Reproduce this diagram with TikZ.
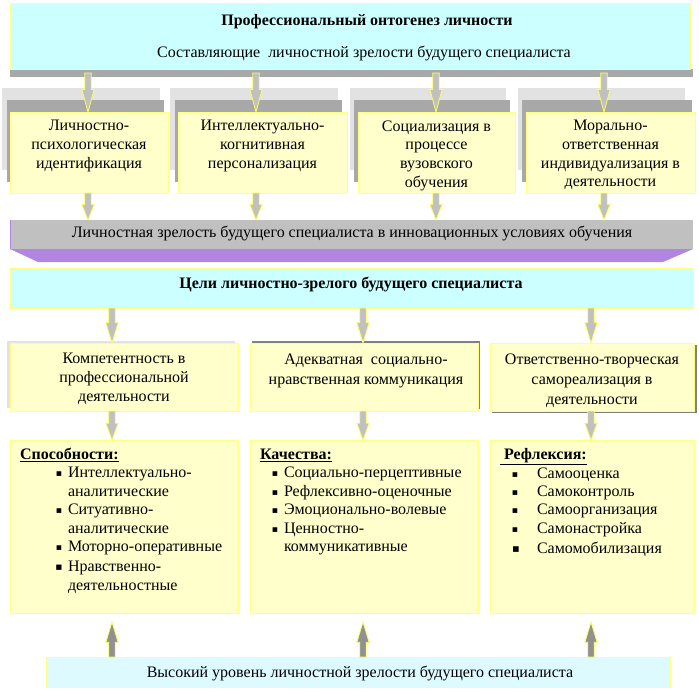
\documentclass[tikz,border=0pt]{standalone}
\usepackage{fontspec}
\setmainfont{Liberation Serif}
\newfontfamily\dejavu{DejaVu Sans}
\usetikzlibrary{fit,calc}
\definecolor{cyanbox}{RGB}{204,255,255}
\definecolor{yelbox}{RGB}{255,255,204}
\definecolor{yelline}{RGB}{255,255,130}
\definecolor{arrline}{RGB}{255,255,90}
\definecolor{bandgray}{RGB}{192,192,192}
\definecolor{bandpurple}{RGB}{178,134,224}
\definecolor{shadowdark}{RGB}{168,168,168}
\definecolor{shadowlight}{RGB}{226,226,226}
\definecolor{shadowmid}{RGB}{128,128,128}
\definecolor{arrowgray}{RGB}{192,192,192}
\definecolor{arrowdark}{RGB}{145,145,145}
\definecolor{bottomcyan}{RGB}{220,250,255}
\newcommand\blockarr[4]{%
  \path (#2 -| #4) coordinate (tmpA) (#3 -| #4) coordinate (tmpB);
  \draw[#1] let \p1=(tmpA), \p2=(tmpB), \p3=($(tmpB)!0.58!(tmpA)$) in
    (\x1-2.4pt,\y1) -- (\x1-2.4pt,\y3) -- (\x1-4.6pt,\y3) -- (\x1,\y2)
    -- (\x1+4.6pt,\y3) -- (\x1+2.4pt,\y3) -- (\x1+2.4pt,\y1) -- cycle;}
\begin{document}
\begin{tikzpicture}[x=0.75pt,y=-0.75pt,
  font=\fontsize{12}{14}\selectfont,
  region/.style={inner sep=0pt, outer sep=0pt},
  cbox/.style={region, fill=cyanbox, draw=yelline, line width=0.75pt},
  ybox/.style={region, fill=yelbox, draw=yelline, line width=0.75pt},
  shl/.style={region, fill=shadowlight},
  shd/.style={region, fill=shadowdark},
  shm/.style={region, fill=shadowmid},
  txt/.style={inner sep=0pt, outer sep=0pt, align=center},
  ltxt/.style={inner sep=0pt, outer sep=0pt, anchor=base west},
  bul/.style={inner sep=0pt, outer sep=0pt, anchor=base, font=\dejavu\fontsize{7}{8}\selectfont},
  darr/.style={fill=arrowgray, draw=arrline, line width=0.6pt},
  uarr/.style={fill=arrowdark, draw=arrline, line width=0.6pt}]
\useasboundingbox (0,0) rectangle (699,690);
\fill[white] (0,0) rectangle (699,690);

% arrow x positions
\coordinate (ax1) at (88,0);
\coordinate (ax2) at (256,0);
\coordinate (ax3) at (436,0);
\coordinate (ax4) at (604,0);
\coordinate (cxA) at (112,0);
\coordinate (cxB) at (363,0);
\coordinate (cxC) at (591,0);

% top box
\node[shm, fit={(10,69) (693,77)}, fill=shadowdark] (topsh) {};
\node[cbox, fit={(10,3) (690,69)}] (top) {};
\draw[yelline, line width=0.75pt] (top.west |- 0,39) coordinate (divl) -- (top.east |- 0,39) coordinate (divr);
\node[txt, anchor=base, font=\bfseries\fontsize{12}{14}\selectfont] (title) at (367,25) {Профессиональный онтогенез личности};
\node[txt, anchor=base] (subtitle) at (364,57) {Составляющие \ личностной зрелости будущего специалиста};

% row 2 shadows and boxes
\node[shl, fit={(2,88) (160,170)}] (s1l) {};
\node[shd, fit={(7,100) (164,182)}] (s1d) {};
\node[shl, fit={(170,88) (338,170)}] (s2l) {};
\node[shd, fit={(175,100) (342,182)}] (s2d) {};
\node[shl, fit={(350,88) (506,170)}] (s3l) {};
\node[shd, fit={(354,100) (510,182)}] (s3d) {};
\node[shl, fit={(518,88) (685,170)}] (s4l) {};
\node[shd, fit={(522,100) (692,182)}] (s4d) {};
\node[ybox, fit={(10,112) (168,193)}] (b1) {};
\node[ybox, fit={(178,112) (347,193)}] (b2) {};
\node[ybox, fit={(358,112) (515,193)}] (b3) {};
\node[ybox, fit={(526,112) (695,193)}] (b4) {};
\node[txt, anchor=north] (t1) at (b1.center |- 0,120.5) {Личностно-\\психологическая\\идентификация};
\node[txt, anchor=north] (t2) at (b2.center |- 0,120.5) {Интеллектуально-\\когнитивная\\персонализация};
\node[txt, anchor=north] (t3) at (b3.center |- 0,120.5) {Социализация в\\процессе\\вузовского\\обучения};
\node[txt, anchor=north] (t4) at (b4.center |- 0,120.5) {Морально-\\ответственная\\индивидуализация в\\деятельности};

% band
\fill[bandpurple] (10,249) coordinate (pl1) -- (693,249) coordinate (pr1) -- (663,262) coordinate (pr2) -- (38,262) coordinate (pl2) -- cycle;
\node[region, fill=bandgray, fit={(10,220) (693,249)}] (band) {};
\draw[bandpurple, line width=0.75pt] (band.north west) -- (band.south west);
\node[txt, anchor=base] (bandtxt) at (352,237) {Личностная зрелость будущего специалиста в инновационных условиях обучения};

% goals box
\node[cbox, fit={(10,268) (693,308)}] (goals) {};
\node[txt, anchor=base, font=\bfseries\fontsize{12}{14}\selectfont] (goalstxt) at (351,288) {Цели личностно-зрелого будущего специалиста};

% row 3
\node[region, fill=shadowlight, fit={(7,341) (235,408)}] (r3ash) {};
\node[region, fill=shadowmid, fit={(252,341) (480,409)}] (r3bsh) {};
\node[region, fill=shadowmid, fit={(492,345) (697,413)}] (r3csh) {};
\node[ybox, fit={(10,343) (238,411)}] (r3a) {};
\node[ybox, fit={(250,343) (478,411)}] (r3b) {};
\node[ybox, fit={(490,343) (694,411)}] (r3c) {};
\node[txt, anchor=north] (r3at) at (r3a.center |- 0,353.5) {Компетентность в\\профессиональной\\деятельности};
\node[txt, anchor=north, font=\fontsize{12}{15}\selectfont] (r3bt) at (366,353.5) {Адекватная \ социально-\\нравственная коммуникация};
\node[txt, anchor=north, font=\fontsize{12}{15}\selectfont] (r3ct) at (r3c.center |- 0,353.5) {Ответственно-творческая\\самореализация в\\деятельности};

% row 4
\node[ybox, fit={(10,440) (238,613)}] (r4a) {};
\node[ybox, fit={(250,440) (478,613)}] (r4b) {};
\node[ybox, fit={(490,440) (694,613)}] (r4c) {};

\node[ltxt, font=\bfseries\fontsize{12}{14}\selectfont] (ha) at (20,459) {\underline{Способности:}};
\node[bul] (ba1) at (59,476) {▪};
\node[ltxt] (la1) at (68,477) {Интеллектуально-};
\node[ltxt] (la2) at (68,496) {аналитические};
\node[bul] (ba2) at (59,513) {▪};
\node[ltxt] (la3) at (68,514) {Ситуативно-};
\node[ltxt] (la4) at (68,533) {аналитические};
\node[bul] (ba3) at (59,550) {▪};
\node[ltxt] (la5) at (68,551) {Моторно-оперативные};
\node[bul, font=\dejavu\fontsize{8}{9}\selectfont] (ba4) at (59,570) {▪};
\node[ltxt] (la6) at (68,571) {Нравственно-};
\node[ltxt] (la7) at (68,590) {деятельностные};

\node[ltxt, font=\bfseries\fontsize{12}{14}\selectfont] (hb) at (260,459) {\underline{Качества:}};
\node[bul] (bb1) at (275,476) {▪};
\node[ltxt] (lb1) at (284,477) {Социально-перцептивные};
\node[bul] (bb2) at (275,495) {▪};
\node[ltxt] (lb2) at (284,496) {Рефлексивно-оценочные};
\node[bul] (bb3) at (275,513) {▪};
\node[ltxt] (lb3) at (284,514) {Эмоционально-волевые};
\node[bul] (bb4) at (275,532) {▪};
\node[ltxt] (lb4) at (284,533) {Ценностно-};
\node[ltxt] (lb5) at (284,551) {коммуникативные};

\node[ltxt, font=\bfseries\fontsize{12}{14}\selectfont] (hc) at (500,459) {\underline{\ Рефлексия:}};
\node[bul] (bc1) at (515,477) {▪};
\node[ltxt] (lc1) at (537,478) {Самооценка};
\node[bul] (bc2) at (515,495) {▪};
\node[ltxt] (lc2) at (537,496) {Самоконтроль};
\node[bul] (bc3) at (515,513) {▪};
\node[ltxt] (lc3) at (537,514) {Самоорганизация};
\node[bul] (bc4) at (515,532) {▪};
\node[ltxt] (lc4) at (537,533) {Самонастройка};
\node[bul, font=\dejavu\fontsize{8.5}{9}\selectfont] (bc5) at (516,552) {▪};
\node[ltxt] (lc5) at (537,553) {Самомобилизация};

% bottom box
\node[region, fill=bottomcyan, draw=yelline, line width=0.75pt, fit={(46,657) (670,687)}] (bot) {};
\node[txt, anchor=base] (bottxt) at (360,677) {Высокий уровень личностной зрелости будущего специалиста};

% up arrow tips
\coordinate (tipA) at (113,622);
\coordinate (tipB) at (363,622);
\coordinate (tipC) at (591,622);

% arrows
\blockarr{darr}{topsh.center}{b1.north}{ax1}
\blockarr{darr}{topsh.center}{b2.north}{ax2}
\blockarr{darr}{topsh.center}{b3.north}{ax3}
\blockarr{darr}{topsh.center}{b4.north}{ax4}
\blockarr{darr}{b1.south}{band.north}{ax1}
\blockarr{darr}{b2.south}{band.north}{ax2}
\blockarr{darr}{b3.south}{band.north}{ax3}
\blockarr{darr}{b4.south}{band.north}{ax4}
\blockarr{darr}{goals.south}{r3a.north}{cxA}
\blockarr{darr}{goals.south}{r3b.north}{cxB}
\blockarr{darr}{goals.south}{r3c.north}{cxC}
\blockarr{darr}{r3a.south}{r4a.north}{cxA}
\blockarr{darr}{r3b.south}{r4b.north}{cxB}
\blockarr{darr}{r3c.south}{r4c.north}{cxC}
\blockarr{uarr}{bot.north}{tipA}{cxA}
\blockarr{uarr}{bot.north}{tipB}{cxB}
\blockarr{uarr}{bot.north}{tipC}{cxC}
\end{tikzpicture}
\end{document}
